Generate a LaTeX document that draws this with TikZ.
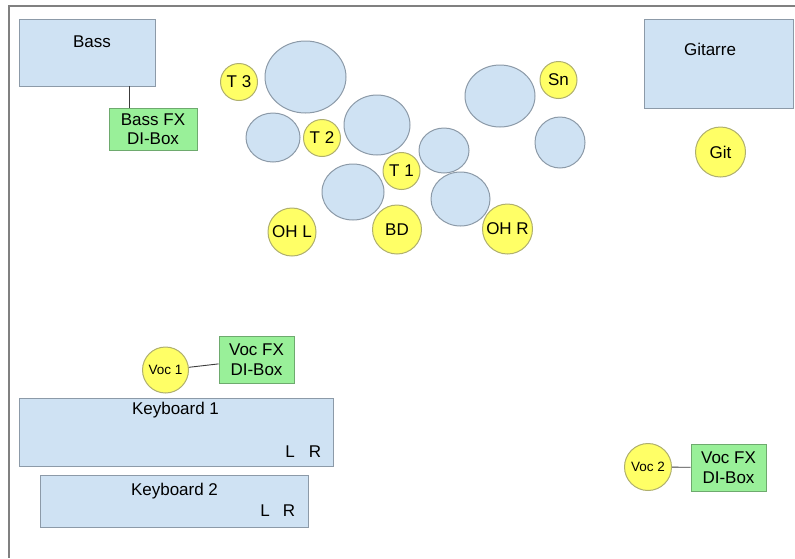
\documentclass[tikz,border=0pt]{standalone}
\usepackage{fontspec}
\setmainfont{Liberation Sans}
\usetikzlibrary{shapes.geometric}
\definecolor{drumblue}{RGB}{207,226,243}
\definecolor{boxline}{RGB}{140,154,168}
\definecolor{digreen}{RGB}{153,240,153}
\definecolor{greenline}{RGB}{110,170,110}
\definecolor{micyellow}{RGB}{255,255,102}
\definecolor{micline}{RGB}{175,175,110}
\definecolor{framegray}{RGB}{128,128,128}
\definecolor{wire}{RGB}{60,60,60}
\begin{document}
\begin{tikzpicture}[x=1pt,y=-1pt,
  bigfont/.style={font=\fontsize{17}{19.5}\selectfont},
  smallfont/.style={font=\fontsize{13.5}{16}\selectfont},
  instbox/.style={draw=boxline, fill=drumblue, line width=1pt, rectangle, inner sep=0pt},
  dibox/.style={draw=greenline, fill=digreen, line width=1pt, rectangle, inner sep=0pt, align=center, bigfont},
  drum/.style={draw=boxline, fill=drumblue, line width=1pt, ellipse, inner sep=0pt},
  mic/.style={draw=micline, fill=micyellow, line width=1pt, circle, inner sep=0pt, bigfont},
  vocmic/.style={mic, smallfont},
  lbl/.style={inner sep=0pt, bigfont},
  wireline/.style={draw=wire, line width=0.9pt}
]
\useasboundingbox (0,0) rectangle (795,558);
% frame
\draw[framegray, line width=1.3pt] (795,6) -- (9,6) -- (9,558);

% Bass
\node[instbox, minimum width=136pt, minimum height=67pt] (bass) at (87,52.5) {};
\node[lbl] (basst) at (92,42) {Bass};
\node[dibox, minimum width=88pt, minimum height=42pt] (bassfx) at (153,129) {Bass FX\\DI-Box};
\coordinate (bl) at (129,86);
\draw[wireline] (bl) -- (bl |- bassfx.north);

% Gitarre
\node[instbox, minimum width=149pt, minimum height=89pt] (git) at (718.5,63.5) {};
\node[lbl] (gitt) at (710,49) {Gitarre};
\node[mic, minimum size=50pt] (gitmic) at (720.5,152) {Git};

% Drums
\node[drum, minimum width=81pt, minimum height=72pt] (d1) at (305.5,77) {};
\node[drum, minimum width=54pt, minimum height=49pt] (d2) at (273,137.5) {};
\node[drum, minimum width=66pt, minimum height=60pt] (d3) at (377,125) {};
\node[drum, minimum width=50pt, minimum height=45pt] (d4) at (444,150.5) {};
\node[drum, minimum width=62pt, minimum height=56pt] (d5) at (353,192) {};
\node[drum, minimum width=59pt, minimum height=54pt] (d6) at (460.5,199) {};
\node[drum, minimum width=70pt, minimum height=62pt] (d7) at (500,96) {};
\node[drum, minimum width=50pt, minimum height=51pt] (d8) at (560,142.5) {};

% Drum mics
\node[mic, minimum size=37pt] (t3) at (239,82) {T 3};
\node[mic, minimum size=37pt] (t2) at (322,138) {T 2};
\node[mic, minimum size=37pt] (t1) at (401.5,171) {T 1};
\node[mic, minimum size=37pt] (sn) at (558.5,80) {Sn};
\node[mic, minimum size=48pt] (ohl) at (292,232) {OH L};
\node[mic, minimum size=49pt] (bd) at (397,229.5) {BD};
\node[mic, minimum size=50pt] (ohr) at (507.5,229) {OH R};

% Vocals 1
\node[vocmic, minimum size=46pt] (voc1) at (165.5,370) {Voc 1};
\node[dibox, minimum width=75pt, minimum height=47pt] (vocfx1) at (256.5,359.5) {Voc FX\\DI-Box};
\draw[wireline] (voc1) -- (vocfx1);

% Keyboards
\node[instbox, minimum width=314pt, minimum height=68pt] (kb1) at (176,432) {};
\node[lbl] (kb1t) at (175.5,410) {Keyboard 1};
\node[lbl] (kb1l) at (290,452) {L};
\node[lbl] (kb1r) at (315,452) {R};
\node[instbox, minimum width=268pt, minimum height=52pt] (kb2) at (174,501) {};
\node[lbl] (kb2t) at (174.5,491) {Keyboard 2};
\node[lbl] (kb2l) at (265,511) {L};
\node[lbl] (kb2r) at (289,511) {R};

% Vocals 2
\node[vocmic, minimum size=47pt] (voc2) at (648,467) {Voc 2};
\node[dibox, minimum width=75pt, minimum height=47pt] (vocfx2) at (728.5,467.5) {Voc FX\\DI-Box};
\draw[wireline] (voc2) -- (vocfx2);
\end{tikzpicture}
\end{document}
